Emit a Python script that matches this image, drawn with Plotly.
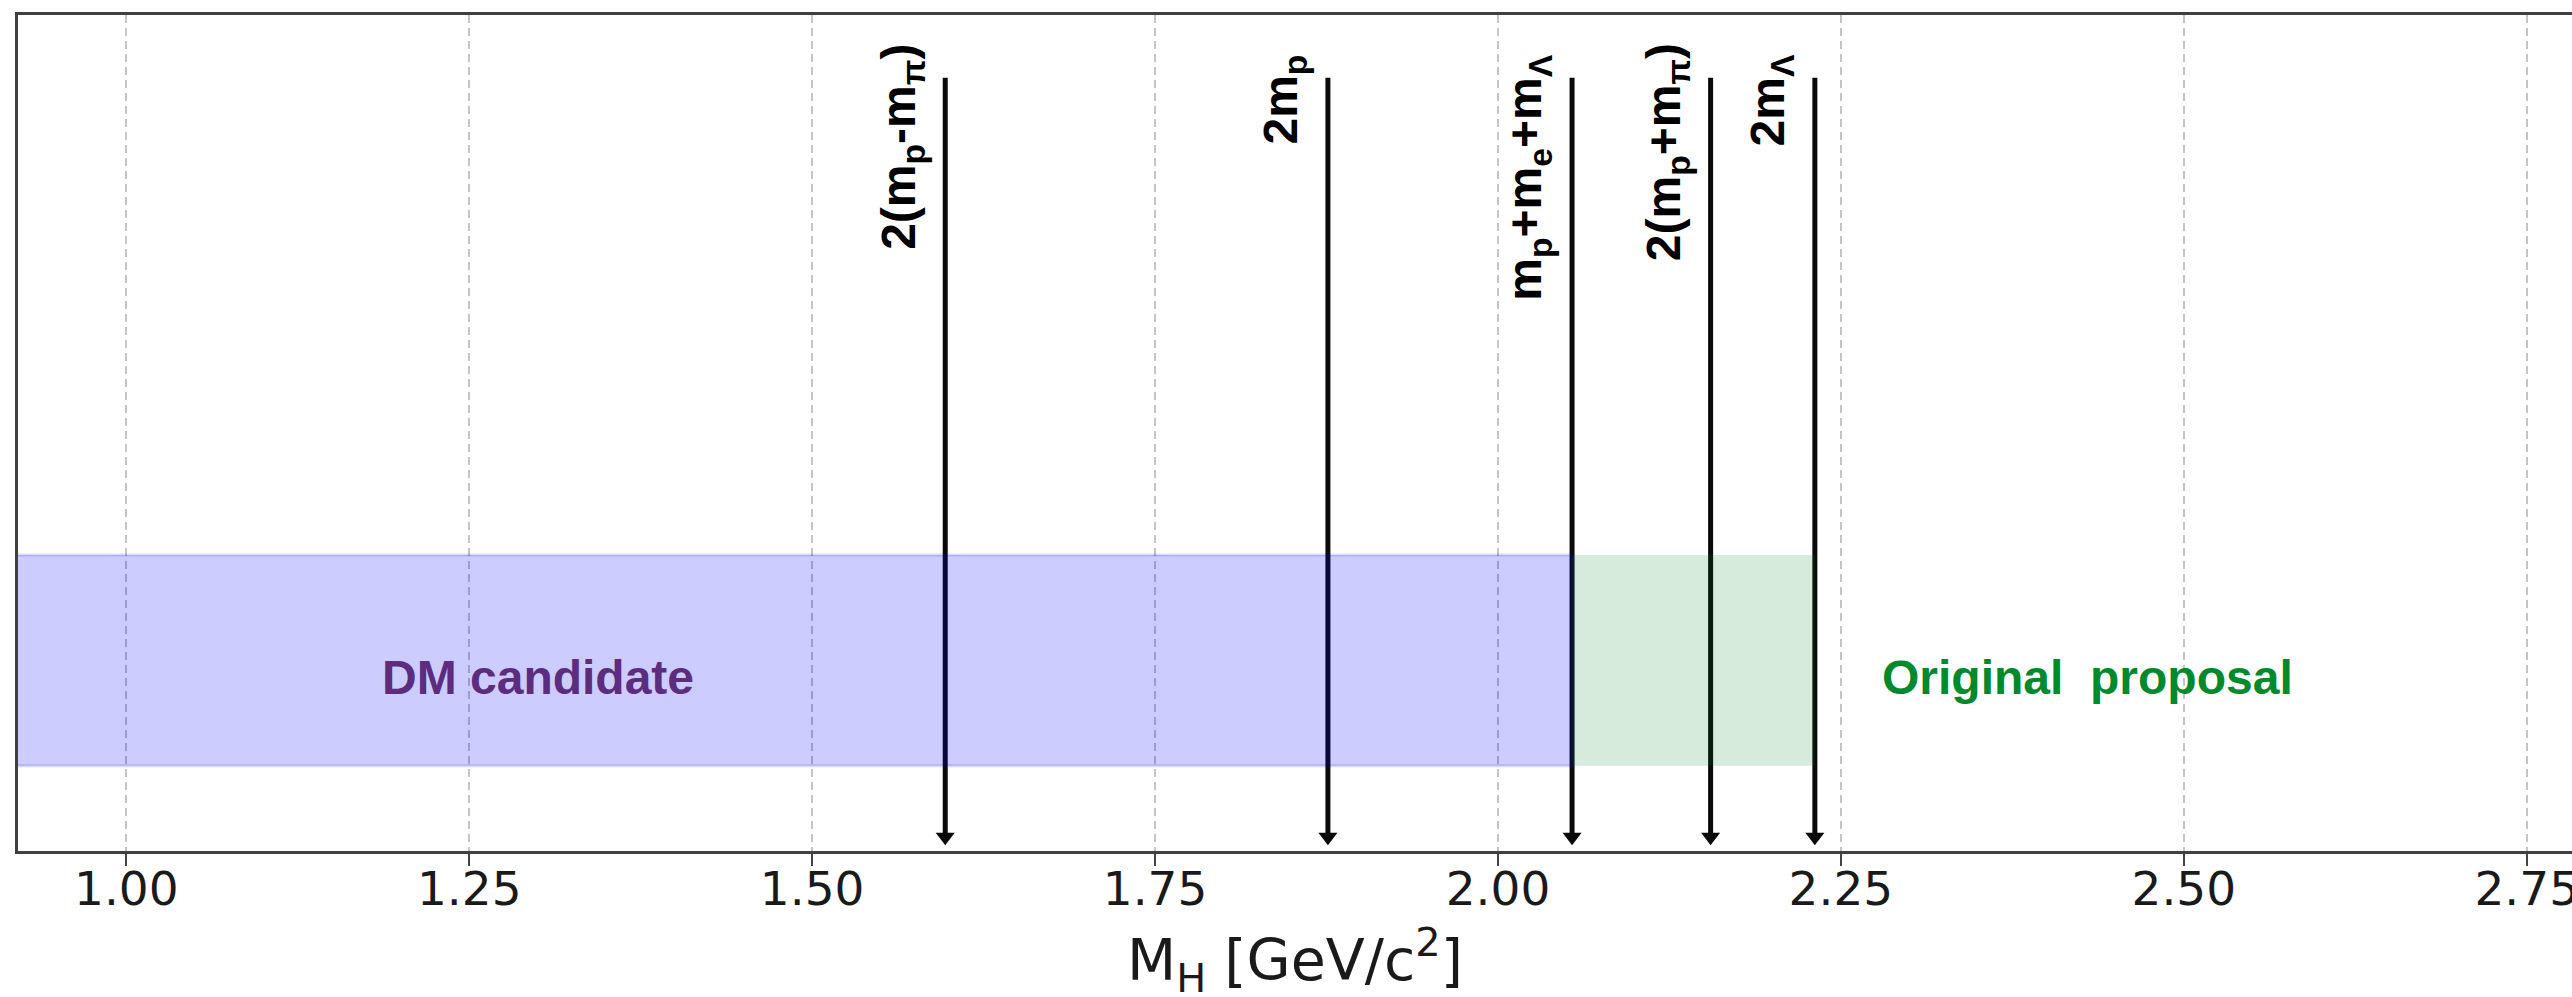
import plotly.graph_objects as go

# Pair-production thresholds (GeV/c^2) and their labels
threshold_mass = [1.597, 1.876, 2.054, 2.155, 2.231]
threshold_label = [
    "2(m<sub>p</sub>-m<sub>π</sub>)",
    "2m<sub>p</sub>",
    "m<sub>p</sub>+m<sub>e</sub>+m<sub>Λ</sub>",
    "2(m<sub>p</sub>+m<sub>π</sub>)",
    "2m<sub>Λ</sub>",
]

# Mass windows
dm_window = [0.90, 2.054]
proposal_window = [2.054, 2.231]
region_text = ["DM candidate", "Original\u00a0 proposal"]
region_text_x = [1.30, 2.43]
region_color = ["#5c2d7f", "#00892d"]

x_ticks = [1.00, 1.25, 1.50, 1.75, 2.00, 2.25, 2.50, 2.75]
x_tick_text = ["1.00", "1.25", "1.50", "1.75", "2.00", "2.25", "2.50", "2.75"]

X_RANGE = [0.921, 2.783]
BAND_Y = [0.102, 0.354]
ARROW_TOP = 0.925
ARROW_TIP = 0.007
HEAD_SIZE = 16.5
PLOT_H = 836

fig = go.Figure()

# Arrow shafts
head_center = ARROW_TIP + (HEAD_SIZE / 2) / PLOT_H
xs, ys = [], []
for m in threshold_mass:
    xs += [m, m, None]
    ys += [ARROW_TOP, head_center, None]
fig.add_trace(go.Scatter(x=xs, y=ys, mode="lines",
                         line=dict(color="#0a0a0a", width=5),
                         hoverinfo="skip", showlegend=False))
# Arrow heads
fig.add_trace(go.Scatter(x=threshold_mass, y=[head_center] * len(threshold_mass),
                         mode="markers",
                         marker=dict(symbol="triangle-down", size=HEAD_SIZE,
                                     color="#0a0a0a", line=dict(width=0)),
                         hoverinfo="skip", showlegend=False))

# Shaded windows (drawn over the arrows, translucent)
fig.add_shape(type="rect", xref="x", yref="y", layer="above",
              x0=dm_window[0], x1=dm_window[1], y0=BAND_Y[0], y1=BAND_Y[1],
              fillcolor="rgba(0,0,255,0.2)",
              line=dict(color="rgba(0,0,255,0.14)", width=3))
fig.add_shape(type="rect", xref="x", yref="y", layer="above",
              x0=proposal_window[0], x1=proposal_window[1], y0=BAND_Y[0], y1=BAND_Y[1],
              fillcolor="rgba(0,128,40,0.16)", line=dict(width=0))

# Threshold labels (vertical); bracketed ones reach a little higher
for m, lab in zip(threshold_mass, threshold_label):
    fig.add_annotation(x=m, y=0.955, xref="x", yref="y", text=lab,
                       textangle=-90, showarrow=False,
                       xanchor="right", yanchor="top", xshift=-12,
                       yshift=(11 if "(" in lab else 0),
                       font=dict(family="Liberation Sans, Arial", size=48,
                                 color="#000000", weight=700))

# Window labels
for tx, txt, col in zip(region_text_x, region_text, region_color):
    fig.add_annotation(x=tx, y=0.208, xref="x", yref="y", text=txt,
                       showarrow=False, xanchor="center", yanchor="middle",
                       font=dict(family="Liberation Sans, Arial", size=48,
                                 color=col, weight=700))

# Axis title
fig.add_annotation(x=0.5, y=0, xref="paper", yref="paper",
                   text="M<sub>H</sub> [GeV/c<sup>2</sup>]", showarrow=False,
                   xanchor="center", yanchor="top", yshift=-66,
                   font=dict(family="DejaVu Sans", size=57, color="#1a1a1a"))

fig.update_xaxes(range=X_RANGE, tickmode="array", tickvals=x_ticks, ticktext=x_tick_text,
                 ticks="outside", ticklen=12, tickwidth=2, tickcolor="#444444",
                 tickfont=dict(family="DejaVu Sans", size=47, color="#1a1a1a"),
                 ticklabeloverflow="allow", ticklabelstandoff=-17, automargin=False,
                 showgrid=True, gridcolor="#c4c4c4", gridwidth=2, griddash="8px,5px",
                 showline=True, linecolor="#404040", linewidth=3, mirror=True,
                 zeroline=False)
fig.update_yaxes(range=[0, 1], showticklabels=False, ticks="", showgrid=False,
                 zeroline=False, showline=True, linecolor="#404040", linewidth=3,
                 mirror=False, automargin=False)

fig.update_layout(width=2572, height=997,
                  margin=dict(l=18, r=0, t=15, b=146, autoexpand=False),
                  paper_bgcolor="white", plot_bgcolor="white",
                  showlegend=False)

fig.write_html("out.html")
